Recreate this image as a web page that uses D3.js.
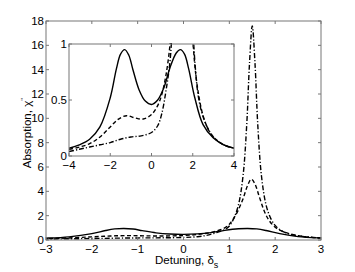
<!DOCTYPE html>
<html>
<head>
<meta charset="utf-8">
<script src="https://cdn.jsdelivr.net/npm/d3@7"></script>
<style>
  body { margin: 0; background: #fff; }
  text { font-family: "Liberation Sans", Arial, sans-serif; fill: #000; }
</style>
</head>
<body>
<div id="chart"></div>
<script>
// detuning samples and absorption values
var solidX = [-4, -3.5, -3, -2.5, -2, -1.7, -1.5, -1.3, -1.1, -0.9, -0.6, -0.3, 0, 0.3, 0.6, 0.9, 1.2, 1.4, 1.6, 1.8, 2.1, 2.5, 3, 3.5, 4];
var solidY = [0.07, 0.10, 0.15, 0.26, 0.52, 0.78, 0.91, 0.95, 0.90, 0.77, 0.59, 0.49, 0.46, 0.50, 0.61, 0.79, 0.92, 0.95, 0.91, 0.78, 0.52, 0.28, 0.16, 0.10, 0.07];

var dashX = [-4, -3.5, -3, -2.5, -2, -1.6, -1.2, -0.8, -0.4, 0, 0.3, 0.5, 0.7, 0.9, 1.0, 1.1, 1.2, 1.3, 1.4, 1.48, 1.56, 1.65, 1.75, 1.85, 2.0, 2.2, 2.5, 2.8, 3, 3.5, 4];
var dashY = [0.06, 0.08, 0.11, 0.17, 0.26, 0.33, 0.36, 0.34, 0.33, 0.37, 0.45, 0.55, 0.72, 1.0, 1.3, 1.8, 2.5, 3.4, 4.5, 5.0, 4.6, 3.6, 2.5, 1.7, 1.05, 0.65, 0.36, 0.22, 0.17, 0.10, 0.07];

var dotX = [-4, -3.5, -3, -2.5, -2, -1.5, -1, -0.5, 0, 0.3, 0.5, 0.7, 0.9, 1.0, 1.1, 1.2, 1.3, 1.38, 1.44, 1.5, 1.56, 1.62, 1.7, 1.8, 1.9, 2.0, 2.1, 2.3, 2.6, 3, 3.5, 4];
var dotY = [0.04, 0.06, 0.08, 0.10, 0.12, 0.15, 0.17, 0.18, 0.21, 0.27, 0.38, 0.58, 0.85, 1.15, 1.8, 2.9, 5.3, 9.5, 14.5, 17.6, 14.5, 9.5, 5.3, 2.9, 1.8, 1.2, 0.85, 0.5, 0.3, 0.17, 0.10, 0.07];

var mainXTicks = [-3, -2, -1, 0, 1, 2, 3];
var mainYTicks = [0, 2, 4, 6, 8, 10, 12, 14, 16, 18];
var insetXTicks = [-4, -2, 0, 2, 4];
var insetYTicks = [0, 0.5, 1];

var W = 355, H = 272;
var svg = d3.select("#chart").append("svg")
    .attr("width", W)
    .attr("height", H);

var series = [
    { xs: solidX, ys: solidY, dash: null },
    { xs: dashX, ys: dashY, dash: "4,2.5" },
    { xs: dotX, ys: dotY, dash: "5,2,1.2,2" }
];

// draws one MATLAB style box with inward ticks and the three curves
function panel(box, xDom, yDom, xTicks, yTicks, id) {
    var x = d3.scaleLinear().domain(xDom).range([box.left, box.right]);
    var y = d3.scaleLinear().domain(yDom).range([box.bottom, box.top]);

    var g = svg.append("g");

    g.append("rect")
        .attr("x", box.left).attr("y", box.top)
        .attr("width", box.right - box.left).attr("height", box.bottom - box.top)
        .attr("fill", "#fff");

    g.append("clipPath").attr("id", id)
        .append("rect")
        .attr("x", box.left).attr("y", box.top - 1)
        .attr("width", box.right - box.left).attr("height", box.bottom - box.top + 1);

    var line = d3.line()
        .x(function(d) { return x(d[0]); })
        .y(function(d) { return y(d[1]); })
        .curve(d3.curveCatmullRom.alpha(0.5));

    series.forEach(function(s) {
        var pts = s.xs.map(function(v, i) { return [v, s.ys[i]]; })
            .filter(function(d) { return d[0] >= xDom[0] - 0.6 && d[0] <= xDom[1] + 0.6; });
        g.append("path")
            .attr("clip-path", "url(#" + id + ")")
            .attr("d", line(pts))
            .attr("fill", "none")
            .attr("stroke", "#000")
            .attr("stroke-width", 1.4)
            .attr("stroke-dasharray", s.dash);
    });

    var tk = 3;
    var axisColor = "#777";
    xTicks.forEach(function(t) {
        g.append("line").attr("x1", x(t)).attr("x2", x(t))
            .attr("y1", box.bottom).attr("y2", box.bottom - tk)
            .attr("stroke", axisColor);
        g.append("line").attr("x1", x(t)).attr("x2", x(t))
            .attr("y1", box.top).attr("y2", box.top + tk)
            .attr("stroke", axisColor);
        g.append("text")
            .attr("x", x(t)).attr("y", box.bottom + 13)
            .attr("text-anchor", "middle")
            .attr("font-size", 11.5)
            .text(t < 0 ? "\u2212" + Math.abs(t) : t);
    });
    yTicks.forEach(function(t) {
        g.append("line").attr("x1", box.left).attr("x2", box.left + tk)
            .attr("y1", y(t)).attr("y2", y(t))
            .attr("stroke", axisColor);
        g.append("line").attr("x1", box.right).attr("x2", box.right - tk)
            .attr("y1", y(t)).attr("y2", y(t))
            .attr("stroke", axisColor);
        g.append("text")
            .attr("x", box.left - 2).attr("y", y(t) + 4)
            .attr("text-anchor", "end")
            .attr("font-size", 11.5)
            .text(t);
    });

    g.append("rect")
        .attr("x", box.left).attr("y", box.top)
        .attr("width", box.right - box.left).attr("height", box.bottom - box.top)
        .attr("fill", "none")
        .attr("stroke", axisColor)
        .attr("stroke-width", 1);
}

panel({ left: 46, right: 321, top: 21, bottom: 240 }, [-3, 3], [0, 18],
    mainXTicks, mainYTicks, "clipMain");

panel({ left: 69, right: 234, top: 44, bottom: 156 }, [-4, 4], [0, 1],
    insetXTicks, insetYTicks, "clipInset");

// axis labels
var xl = svg.append("text")
    .attr("x", 155).attr("y", 264)
    .attr("font-size", 11.5);
xl.append("tspan").text("Detuning, \u03b4");
xl.append("tspan").attr("dy", 4).attr("font-size", 9).text("s");

var yl = svg.append("text")
    .attr("transform", "translate(31,133) rotate(-90)")
    .attr("text-anchor", "middle")
    .attr("font-size", 11.5);
yl.append("tspan").text("Absorption, \u03c7");
yl.append("tspan").attr("dy", -5).attr("font-size", 8).text("''");
</script>
</body>
</html>
